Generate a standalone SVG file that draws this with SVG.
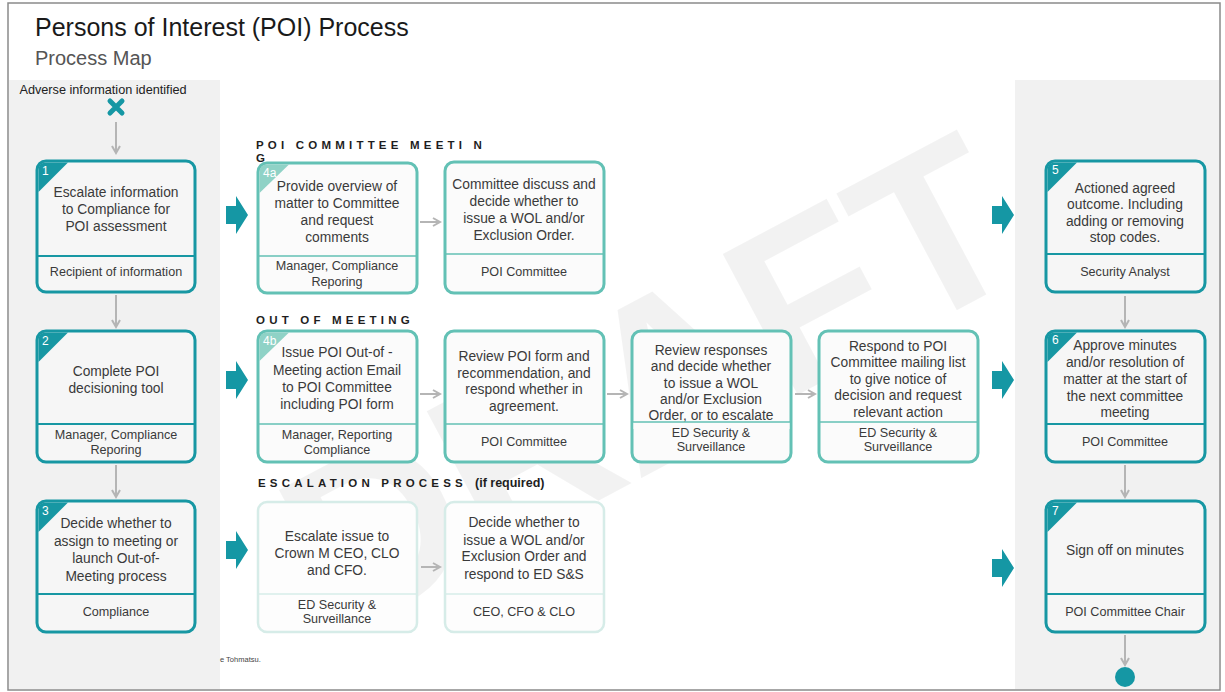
<svg xmlns="http://www.w3.org/2000/svg" width="1225" height="692" viewBox="0 0 1225 692">
<defs>
<style>
.t{font-family:"Liberation Sans",Arial,sans-serif;fill:#3a3a3a;font-size:13.8px;text-anchor:middle}
.r{font-family:"Liberation Sans",Arial,sans-serif;fill:#3a3a3a;font-size:12.6px;text-anchor:middle}
.h{font-family:"Liberation Sans",Arial,sans-serif;fill:#1e1e1e;font-size:11.5px;font-weight:bold;letter-spacing:4.2px}
.n{font-family:"Liberation Sans",Arial,sans-serif;fill:#fff;font-size:12px}
.b1{fill:#f6f6f6;stroke:#1797a3;stroke-width:3}
.b2{fill:#fbfbfb;stroke:#63c1b5;stroke-width:3}
.b3{fill:#fdfdfd;stroke:#d6ece8;stroke-width:2.5}
.d1{stroke:#1797a3;stroke-width:2}
.d2{stroke:#63c1b5;stroke-width:1.5}
.d3{stroke:#d6ece8;stroke-width:1.5}
.c1{fill:#1797a3}
.c2{fill:#8fd2c6}
.g{stroke:#b5b5b5;stroke-width:2;fill:none;marker-end:url(#ah)}
.ba{fill:#1597a4}
</style>
<marker id="ah" viewBox="0 0 10 10" refX="8" refY="5" markerWidth="5" markerHeight="5" orient="auto" markerUnits="strokeWidth">
<path d="M1,1 L8,5 L1,9" fill="none" stroke="#b5b5b5" stroke-width="2"/>
</marker>
</defs>
<rect x="0" y="0" width="1225" height="692" fill="#fff"/>
<rect x="8" y="3" width="1212" height="687" fill="#fff" stroke="#8a8a8a" stroke-width="1.5"/>
<rect x="9" y="80" width="211" height="609" fill="#f1f1f1"/>
<rect x="1015" y="80" width="204" height="609" fill="#f1f1f1"/>
<text x="648" y="380" dy="0.36em" transform="rotate(-28 648 380)" font-family="Liberation Sans,Arial,sans-serif" font-weight="bold" font-size="232" fill="#000" fill-opacity="0.05" text-anchor="middle">DRAFT</text>

<text x="35" y="36" font-family="Liberation Sans,Arial,sans-serif" font-size="25" fill="#1a1a1a">Persons of Interest (POI) Process</text>
<text x="35" y="65" font-family="Liberation Sans,Arial,sans-serif" font-size="20" fill="#555">Process Map</text>
<text x="103" y="94" font-family="Liberation Sans,Arial,sans-serif" font-size="12.7" fill="#222" text-anchor="middle">Adverse information identified</text>
<path d="M110,101 L122,113 M122,101 L110,113" stroke="#1597a4" stroke-width="5" stroke-linecap="round"/>

<text class="h" x="256" y="149">POI COMMITTEE MEETI N</text>
<text class="h" x="256" y="162">G</text>
<text class="h" x="256" y="324">OUT OF MEETING</text>
<text class="h" x="258" y="487">ESCALATION PROCESS</text>
<text x="475" y="487" font-family="Liberation Sans,Arial,sans-serif" font-size="12.5" font-weight="bold" fill="#1e1e1e">(if required)</text>
<text x="220" y="662" font-family="Liberation Sans,Arial,sans-serif" font-size="7.5" fill="#444">e Tohmatsu.</text>

<g id="connectors">
<line class="g" x1="116" y1="122" x2="116" y2="153"/>
<line class="g" x1="116" y1="295" x2="116" y2="327"/>
<line class="g" x1="116" y1="465" x2="116" y2="497"/>
<line class="g" x1="420" y1="222" x2="440" y2="222"/>
<line class="g" x1="420" y1="394" x2="440" y2="394"/>
<line class="g" x1="607" y1="394" x2="627" y2="394"/>
<line class="g" x1="795" y1="394" x2="815" y2="394"/>
<line class="g" x1="421" y1="567" x2="440" y2="567"/>
<line class="g" x1="1125" y1="296" x2="1125" y2="327"/>
<line class="g" x1="1125" y1="465" x2="1125" y2="497"/>
<line class="g" x1="1125" y1="635" x2="1125" y2="665"/>
<path class="ba" d="M226,206 H236 V196 L248,215 L236,234 V224 H226 Z"/>
<path class="ba" d="M226,371 H236 V361 L248,380 L236,399 V389 H226 Z"/>
<path class="ba" d="M226,541 H236 V531 L248,550 L236,569 V559 H226 Z"/>
<path class="ba" d="M992,206 H1002 V196 L1014,215 L1002,234 V224 H992 Z"/>
<path class="ba" d="M992,371 H1002 V361 L1014,380 L1002,399 V389 H992 Z"/>
<path class="ba" d="M992,559 H1002 V549 L1014,568 L1002,587 V577 H992 Z"/>
</g>

<g id="n1">
<rect class="b1" x="37" y="161" width="158" height="131" rx="9"/>
<path class="c1" d="M38.5,192 V170 Q38.5,162.5 46,162.5 H68 Z"/>
<text class="n" x="42" y="175">1</text>
<line class="d1" x1="38" y1="256" x2="194" y2="256"/>
<text class="t" x="116" y="197">Escalate information</text>
<text class="t" x="116" y="214">to Compliance for</text>
<text class="t" x="116" y="231">POI assessment</text>
<text class="r" x="116" y="276">Recipient of information</text>
</g>

<g id="n2">
<rect class="b1" x="37" y="331" width="158" height="131" rx="9"/>
<path class="c1" d="M38.5,362 V340 Q38.5,332.5 46,332.5 H68 Z"/>
<text class="n" x="42" y="345">2</text>
<line class="d1" x1="38" y1="424" x2="194" y2="424"/>
<text class="t" x="116" y="376">Complete POI</text>
<text class="t" x="116" y="393">decisioning tool</text>
<text class="r" x="116" y="439">Manager, Compliance</text>
<text class="r" x="116" y="454">Reporing</text>
</g>

<g id="n3">
<rect class="b1" x="37" y="501" width="158" height="131" rx="9"/>
<path class="c1" d="M38.5,532 V510 Q38.5,502.5 46,502.5 H68 Z"/>
<text class="n" x="42" y="515">3</text>
<line class="d1" x1="38" y1="594" x2="194" y2="594"/>
<text class="t" x="116" y="528">Decide whether to</text>
<text class="t" x="116" y="546">assign to meeting or</text>
<text class="t" x="116" y="563">launch Out-of-</text>
<text class="t" x="116" y="581">Meeting process</text>
<text class="r" x="116" y="616">Compliance</text>
</g>

<g id="n4a">
<rect class="b2" x="258" y="163" width="159" height="130" rx="9"/>
<path class="c2" d="M259.5,193 V172 Q259.5,164.5 267,164.5 H289 Z"/>
<text class="n" x="263" y="177">4a</text>
<line class="d2" x1="259" y1="256" x2="416" y2="256"/>
<text class="t" x="337" y="191">Provide overview of</text>
<text class="t" x="337" y="208">matter to Committee</text>
<text class="t" x="337" y="225">and request</text>
<text class="t" x="337" y="242">comments</text>
<text class="r" x="337" y="270">Manager, Compliance</text>
<text class="r" x="337" y="286">Reporing</text>
</g>

<g id="n4a2">
<rect class="b2" x="445" y="162" width="159" height="131" rx="9"/>
<line class="d2" x1="446" y1="254" x2="603" y2="254"/>
<text class="t" x="524" y="189">Committee discuss and</text>
<text class="t" x="524" y="206">decide whether to</text>
<text class="t" x="524" y="223">issue a WOL and/or</text>
<text class="t" x="524" y="240">Exclusion Order.</text>
<text class="r" x="524" y="276">POI Committee</text>
</g>

<g id="n4b">
<rect class="b2" x="258" y="331" width="159" height="131" rx="9"/>
<path class="c2" d="M259.5,361 V340 Q259.5,332.5 267,332.5 H289 Z"/>
<text class="n" x="263" y="345">4b</text>
<line class="d2" x1="259" y1="424" x2="416" y2="424"/>
<text class="t" x="337" y="357">Issue POI Out-of -</text>
<text class="t" x="337" y="375">Meeting action Email</text>
<text class="t" x="337" y="392">to POI Committee</text>
<text class="t" x="337" y="409">including POI form</text>
<text class="r" x="337" y="439">Manager, Reporting</text>
<text class="r" x="337" y="454">Compliance</text>
</g>

<g id="n4b2">
<rect class="b2" x="445" y="331" width="159" height="131" rx="9"/>
<line class="d2" x1="446" y1="424" x2="603" y2="424"/>
<text class="t" x="524" y="361">Review POI form and</text>
<text class="t" x="524" y="378">recommendation, and</text>
<text class="t" x="524" y="394">respond whether in</text>
<text class="t" x="524" y="411">agreement.</text>
<text class="r" x="524" y="446">POI Committee</text>
</g>

<g id="n4b3">
<rect class="b2" x="632" y="331" width="159" height="131" rx="9"/>
<text class="t" x="711" y="355">Review responses</text>
<text class="t" x="711" y="371">and decide whether</text>
<text class="t" x="711" y="388">to issue a WOL</text>
<text class="t" x="711" y="404">and/or Exclusion</text>
<text class="t" x="711" y="420">Order, or to escalate</text>
<rect x="633.5" y="422" width="156" height="7" fill="#fbfbfb"/>
<line class="d2" x1="633" y1="422" x2="790" y2="422"/>
<text class="r" x="711" y="437">ED Security &amp;</text>
<text class="r" x="711" y="451">Surveillance</text>
</g>

<g id="n4b4">
<rect class="b2" x="819" y="331" width="159" height="131" rx="9"/>
<line class="d2" x1="820" y1="422" x2="977" y2="422"/>
<text class="t" x="898" y="351">Respond to POI</text>
<text class="t" x="898" y="367">Committee mailing list</text>
<text class="t" x="898" y="384">to give notice of</text>
<text class="t" x="898" y="400">decision and request</text>
<text class="t" x="898" y="417">relevant action</text>
<text class="r" x="898" y="437">ED Security &amp;</text>
<text class="r" x="898" y="451">Surveillance</text>
</g>

<g id="ne1">
<rect class="b3" x="258" y="502" width="159" height="130" rx="9"/>
<line class="d3" x1="259" y1="594" x2="416" y2="594"/>
<text class="t" x="337" y="541">Escalate issue to</text>
<text class="t" x="337" y="558">Crown M CEO, CLO</text>
<text class="t" x="337" y="575">and CFO.</text>
<text class="r" x="337" y="609">ED Security &amp;</text>
<text class="r" x="337" y="623">Surveillance</text>
</g>

<g id="ne2">
<rect class="b3" x="445" y="502" width="159" height="130" rx="9"/>
<line class="d3" x1="446" y1="594" x2="603" y2="594"/>
<text class="t" x="524" y="527">Decide whether to</text>
<text class="t" x="524" y="545">issue a WOL and/or</text>
<text class="t" x="524" y="561">Exclusion Order and</text>
<text class="t" x="524" y="579">respond to ED S&amp;S</text>
<text class="r" x="524" y="616">CEO, CFO &amp; CLO</text>
</g>

<g id="n5">
<rect class="b1" x="1046" y="161" width="159" height="131" rx="9"/>
<path class="c1" d="M1047.5,192 V170 Q1047.5,162.5 1055,162.5 H1077 Z"/>
<text class="n" x="1052" y="174">5</text>
<line class="d1" x1="1047" y1="254" x2="1204" y2="254"/>
<text class="t" x="1125" y="193">Actioned agreed</text>
<text class="t" x="1125" y="209">outcome. Including</text>
<text class="t" x="1125" y="226">adding or removing</text>
<text class="t" x="1125" y="242">stop codes.</text>
<text class="r" x="1125" y="276">Security Analyst</text>
</g>

<g id="n6">
<rect class="b1" x="1046" y="331" width="159" height="131" rx="9"/>
<path class="c1" d="M1047.5,362 V340 Q1047.5,332.5 1055,332.5 H1077 Z"/>
<text class="n" x="1052" y="344">6</text>
<line class="d1" x1="1047" y1="424" x2="1204" y2="424"/>
<text class="t" x="1125" y="350">Approve minutes</text>
<text class="t" x="1125" y="367">and/or resolution of</text>
<text class="t" x="1125" y="384">matter at the start of</text>
<text class="t" x="1125" y="401">the next committee</text>
<text class="t" x="1125" y="417">meeting</text>
<text class="r" x="1125" y="446">POI Committee</text>
</g>

<g id="n7">
<rect class="b1" x="1046" y="501" width="159" height="131" rx="9"/>
<path class="c1" d="M1047.5,532 V510 Q1047.5,502.5 1055,502.5 H1077 Z"/>
<text class="n" x="1052" y="515">7</text>
<line class="d1" x1="1047" y1="594" x2="1204" y2="594"/>
<text class="t" x="1125" y="555">Sign off on minutes</text>
<text class="r" x="1125" y="616">POI Committee Chair</text>
</g>

<g id="end">
<circle cx="1125" cy="677" r="10" fill="#1597a4"/>
</g>
</svg>
